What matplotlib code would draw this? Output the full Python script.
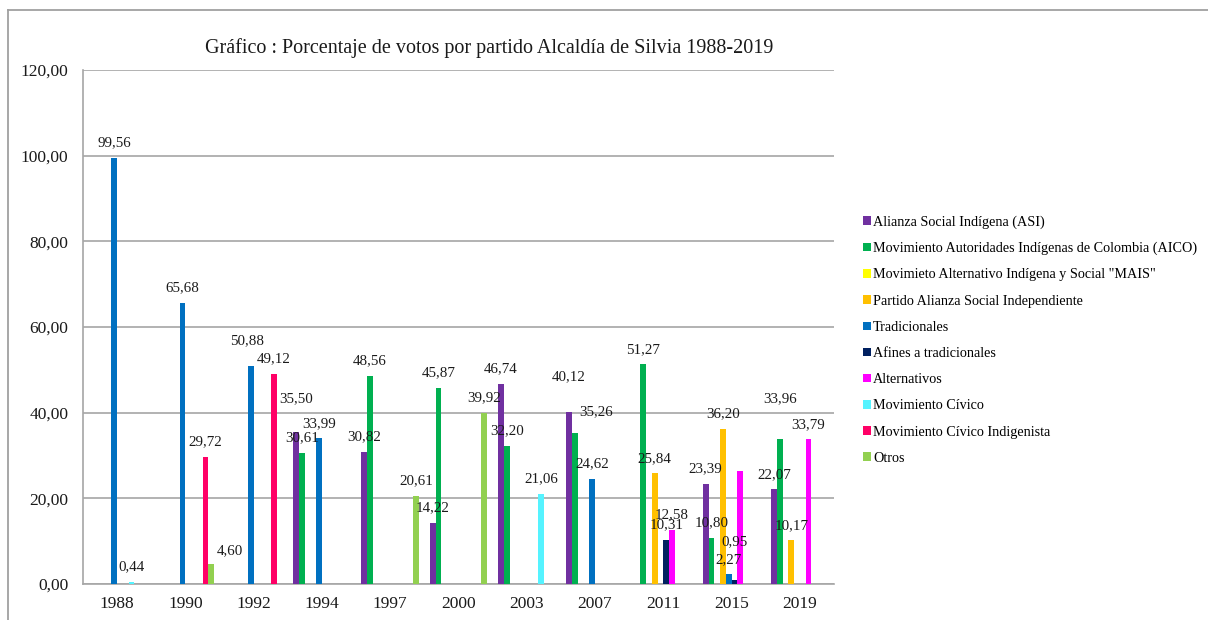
import numpy as np
import matplotlib.pyplot as plt
from matplotlib.lines import Line2D
from matplotlib.ticker import FuncFormatter, MultipleLocator

plt.rcParams['font.family'] = ['Liberation Serif', 'DejaVu Serif']

years = ['1988', '1990', '1992', '1994', '1997', '2000', '2003', '2007', '2011', '2015', '2019']

parties = [
    'Alianza Social Indígena (ASI)',
    'Movimiento Autoridades Indígenas de Colombia (AICO)',
    'Movimieto Alternativo Indígena y Social "MAIS"',
    'Partido Alianza Social Independiente',
    'Tradicionales',
    'Afines a tradicionales',
    'Alternativos',
    'Movimiento Cívico',
    'Movimiento Cívico Indigenista',
    'Otros',
]

nan = np.nan
asi = [nan, nan, nan, 35.50, 30.82, 14.22, 46.74, 40.12, nan, 23.39, 22.07]
aico = [nan, nan, nan, 30.61, 48.56, 45.87, 32.20, 35.26, 51.27, 10.80, 33.96]
mais = [nan] * 11
pasi = [nan, nan, nan, nan, nan, nan, nan, nan, 25.84, 36.20, 10.17]
tradicionales = [99.56, 65.68, 50.88, 33.99, nan, nan, nan, 24.62, nan, 2.27, nan]
afines = [nan, nan, nan, nan, nan, nan, nan, nan, 10.31, 0.95, nan]
alternativos = [nan, nan, nan, nan, nan, nan, nan, nan, 12.58, 26.39, 33.79]
civico = [0.44, nan, nan, nan, nan, nan, 21.06, nan, nan, nan, nan]
civico_ind = [nan, 29.72, 49.12, nan, nan, nan, nan, nan, nan, nan, nan]
otros = [nan, 4.60, nan, nan, 20.61, 39.92, nan, nan, nan, nan, nan]

series = [asi, aico, mais, pasi, tradicionales, afines, alternativos, civico, civico_ind, otros]

colors = ['#7030A0', '#00B050', '#FFFF00', '#FFC000', '#0070C0',
          '#002060', '#FF00FF', '#55F3FF', '#FF0066', '#92D050']

# labels that were nudged away from the default spot (extra pixels)
label_nudge = {
    (0, '1994'): (0, 18),
    (9, '1990'): (19, -1),
    (4, '1992'): (-4, 10),
    (0, '2007'): (0, 20),
    (1, '2007'): (21, 6),
    (5, '2015'): (0, 23),
    (1, '2019'): (0, 25),
}
no_label = {(6, '2015')}


def comma(v, pos=None):
    return f'{v:.2f}'.replace('.', ',')


fig = plt.figure(figsize=(12.08, 6.2), dpi=100)
ax = fig.add_axes([0.0687, 0.0581, 0.6217, 0.829])

x = np.arange(len(years))
width = 0.0842
grid_color = '#A6A6A6'

for i, (name, vals, col) in enumerate(zip(parties, series, colors)):
    pos = x + (i - 4.5) * width
    ax.bar(pos, vals, width=width, color=col, label=name, zorder=3)
    for p, v, yr in zip(pos, vals, years):
        if np.isnan(v) or (i, yr) in no_label:
            continue
        dx, dy = label_nudge.get((i, yr), (0, 0))
        ax.annotate(comma(v), (p, v), xytext=(dx, 15 + dy), textcoords='offset pixels',
                    ha='center', va='center', fontsize=10.8, color='#1a1a1a', zorder=4)

ax.set_xlim(-0.5, len(years) - 0.5)
ax.set_ylim(0, 120)
ax.yaxis.set_major_locator(MultipleLocator(20))
ax.yaxis.set_major_formatter(FuncFormatter(comma))
ax.set_xticks(x)
ax.set_xticklabels(years)
ax.tick_params(axis='both', length=0, labelsize=12.5, colors='#1a1a1a')
ax.tick_params(axis='y', pad=10.5)
ax.tick_params(axis='x', pad=8.5)

ax.grid(axis='y', color=grid_color, linewidth=1.2, zorder=0)
for side in ['top', 'right']:
    ax.spines[side].set_visible(False)
for side in ['left', 'bottom']:
    ax.spines[side].set_color(grid_color)
    ax.spines[side].set_linewidth(1.2)

fig.text(0.405, 0.922, 'Gráfico : Porcentaje de votos por partido Alcaldía de Silvia 1988-2019',
         ha='center', va='center', fontsize=14.5, color='#1a1a1a')

ax.legend(loc='upper left', bbox_to_anchor=(0.7145, 0.653), bbox_transform=fig.transFigure,
          frameon=False, fontsize=10.2, handlelength=0.55, handleheight=0.55,
          handletextpad=0.15, labelspacing=0.93, borderpad=0, borderaxespad=0)

# outer chart frame
fig.add_artist(Line2D([8 / 1208, 1], [1 - 10 / 620, 1 - 10 / 620], transform=fig.transFigure,
                      color='#A0A0A0', linewidth=1.3))
fig.add_artist(Line2D([8 / 1208, 8 / 1208], [0, 1 - 10 / 620], transform=fig.transFigure,
                      color='#A0A0A0', linewidth=1.3))

fig.savefig('out.png', dpi=100)
